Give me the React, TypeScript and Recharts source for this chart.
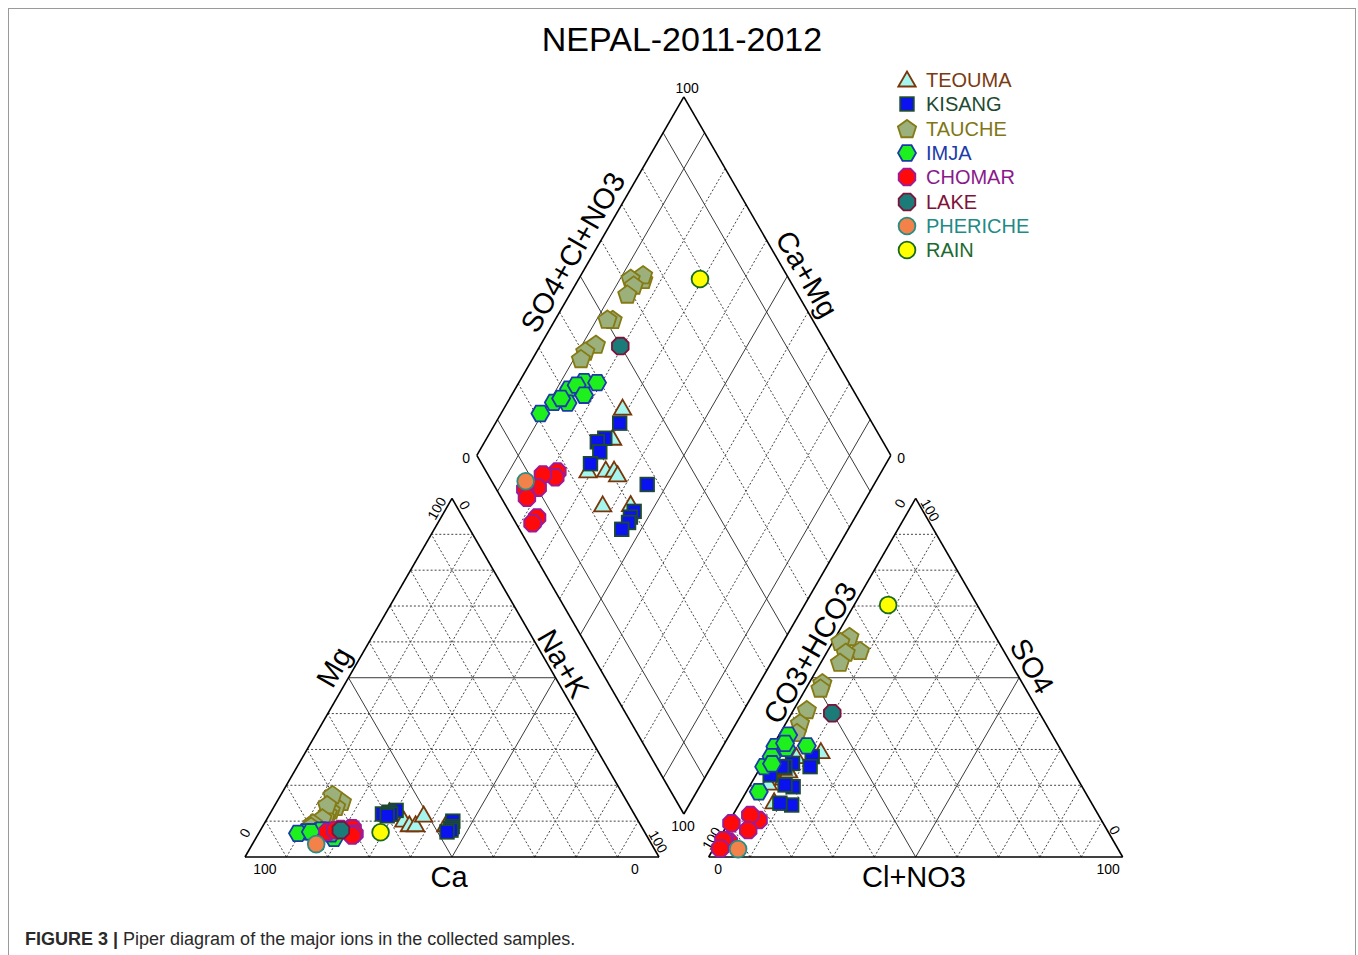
import React from "react";
import { ScatterChart, Scatter, XAxis, YAxis, ReferenceLine, ReferenceDot } from "recharts";

// Sample compositions in meq %: na = Na+K, mg = Mg, so4 = SO4, cl = Cl+NO3
// (Ca = 100 - na - mg, CO3+HCO3 = 100 - so4 - cl)
type Sample = { na: number; mg: number; so4: number; cl: number };

const TEOUMA: Sample[] = [
  { na: 28.6, mg: 12.6, so4: 29.4, cl: 12.4 },
  { na: 30.4, mg: 12.0, so4: 28.0, cl: 7.2 },
  { na: 29.0, mg: 12.0, so4: 20.6, cl: 4.1 },
  { na: 33.2, mg: 10.3, so4: 22.0, cl: 7.1 },
  { na: 35.2, mg: 9.0, so4: 24.3, cl: 6.8 },
  { na: 36.7, mg: 9.0, so4: 24.0, cl: 7.3 },
  { na: 37.3, mg: 11.7, so4: 15.4, cl: 8.1 },
  { na: 44.0, mg: 9.0, so4: 24.7, cl: 5.6 },
];

const KISANG: Sample[] = [
  { na: 30.0, mg: 13.0, so4: 28.0, cl: 11.0 },
  { na: 28.5, mg: 12.5, so4: 26.1, cl: 7.2 },
  { na: 27.2, mg: 12.0, so4: 25.2, cl: 5.8 },
  { na: 29.2, mg: 12.0, so4: 25.2, cl: 5.0 },
  { na: 28.6, mg: 11.5, so4: 22.9, cl: 3.4 },
  { na: 45.2, mg: 10.0, so4: 25.2, cl: 11.9 },
  { na: 45.8, mg: 8.5, so4: 19.6, cl: 10.6 },
  { na: 45.7, mg: 8.0, so4: 20.1, cl: 8.4 },
  { na: 46.0, mg: 7.5, so4: 14.5, cl: 12.8 },
  { na: 45.3, mg: 7.0, so4: 15.0, cl: 9.7 },
];

const TAUCHE: Sample[] = [
  { na: 15.7, mg: 15.4, so4: 61.4, cl: 3.3 },
  { na: 15.0, mg: 14.0, so4: 57.5, cl: 7.8 },
  { na: 12.5, mg: 17.3, so4: 60.0, cl: 1.8 },
  { na: 14.2, mg: 13.0, so4: 57.0, cl: 4.6 },
  { na: 13.9, mg: 12.2, so4: 54.2, cl: 4.6 },
  { na: 13.9, mg: 11.0, so4: 48.5, cl: 3.2 },
  { na: 12.6, mg: 14.5, so4: 47.0, cl: 3.5 },
  { na: 13.3, mg: 10.8, so4: 41.0, cl: 3.2 },
  { na: 11.7, mg: 9.4, so4: 37.3, cl: 3.4 },
  { na: 11.7, mg: 8.5, so4: 34.6, cl: 4.0 },
];

const IMJA: Sample[] = [
  { na: 15.6, mg: 7.5, so4: 34.0, cl: 2.2 },
  { na: 18.9, mg: 5.2, so4: 31.0, cl: 8.2 },
  { na: 13.0, mg: 7.0, so4: 30.8, cl: 0.7 },
  { na: 14.3, mg: 7.3, so4: 30.3, cl: 3.6 },
  { na: 17.5, mg: 6.5, so4: 31.7, cl: 2.6 },
  { na: 11.2, mg: 7.0, so4: 25.2, cl: 0.8 },
  { na: 14.6, mg: 7.5, so4: 28.0, cl: 1.2 },
  { na: 9.5, mg: 6.6, so4: 18.2, cl: 3.0 },
  { na: 12.4, mg: 7.0, so4: 26.0, cl: 2.3 },
];

const CHOMAR: Sample[] = [
  { na: 21.7, mg: 8.0, so4: 10.3, cl: 6.9 },
  { na: 22.0, mg: 8.0, so4: 11.7, cl: 4.2 },
  { na: 18.6, mg: 7.5, so4: 7.5, cl: 5.8 },
  { na: 19.2, mg: 7.8, so4: 9.4, cl: 0.8 },
  { na: 16.4, mg: 7.0, so4: 4.3, cl: 2.7 },
  { na: 18.0, mg: 7.5, so4: 4.7, cl: 1.5 },
  { na: 23.2, mg: 6.5, so4: 4.7, cl: 1.2 },
  { na: 22.9, mg: 6.0, so4: 2.4, cl: 1.6 },
];

const LAKE: Sample[] = [{ na: 19.4, mg: 7.5, so4: 40.1, cl: 9.8 }];
const PHERICHE: Sample[] = [{ na: 15.4, mg: 3.6, so4: 2.2, cl: 6.0 }];
const RAIN: Sample[] = [{ na: 29.3, mg: 6.9, so4: 70.3, cl: 8.2 }];

const SERIES_NAMES = ["TEOUMA", "KISANG", "TAUCHE", "IMJA", "CHOMAR", "LAKE", "PHERICHE", "RAIN"];
const SERIES_DATA = [TEOUMA, KISANG, TAUCHE, IMJA, CHOMAR, LAKE, PHERICHE, RAIN];
const SERIES_STYLE = [
  { kind: "triangle", fill: "#a6f6f0", stroke: "#7a3608", text: "#7a3a12" },
  { kind: "square", fill: "#0a12f0", stroke: "#1d4a30", text: "#1d4a30" },
  { kind: "pentagon", fill: "#9cb07c", stroke: "#857a14", text: "#7f7614" },
  { kind: "hexagon", fill: "#1ef01e", stroke: "#1c3aa8", text: "#1c3aa8" },
  { kind: "octagon", fill: "#ff0a0a", stroke: "#9a1c9a", text: "#8a1a8a" },
  { kind: "octagon", fill: "#1a7b78", stroke: "#7e1238", text: "#7e1238" },
  { kind: "circle", fill: "#f2824a", stroke: "#2a8c84", text: "#1f8a86" },
  { kind: "circle", fill: "#ffff00", stroke: "#1b6a22", text: "#1b6a2e" },
];

// Geometry of the Piper plot (data units)
const H = Math.sqrt(3) / 2;
const GAP = 12;
const AX = 100 + GAP;
const cat = (na: number, mg: number) => ({ x: na + mg / 2, y: mg * H });
const ani = (cl: number, so4: number) => ({ x: AX + cl + so4 / 2, y: so4 * H });
const dia = (a: number, c: number) => ({ x: 100 + GAP / 2 + (a - c) / 2, y: GAP * H + (a + c) * H });

// Layout: pixels per unit and where the origin sits in the chart
const K = 4.14;
const OX = 236;
const OY = 848;
const CW = 1346;
const CH = 950;
const X_DOMAIN = [-OX / K, (CW - OX) / K];
const Y_DOMAIN = [(OY - CH) / K, OY / K];

const TICKS = [10, 20, 30, 40, 50, 60, 70, 80, 90];
const FONT = "'Liberation Sans', Arial, Helvetica, sans-serif";

type Seg = { p: { x: number; y: number }[]; kind: "edge" | "solid" | "dash" };

function triangleSegs(f: (u: number, v: number) => { x: number; y: number }): Seg[] {
  const s: Seg[] = [];
  TICKS.forEach((t) => {
    const k = t === 50 ? "solid" : "dash";
    s.push({ p: [f(0, t), f(100 - t, t)], kind: k });
    s.push({ p: [f(t, 0), f(t, 100 - t)], kind: k });
    s.push({ p: [f(100 - t, 0), f(0, 100 - t)], kind: k });
  });
  s.push({ p: [f(0, 0), f(100, 0)], kind: "edge" });
  s.push({ p: [f(100, 0), f(0, 100)], kind: "edge" });
  s.push({ p: [f(0, 100), f(0, 0)], kind: "edge" });
  return s;
}

function diamondSegs(): Seg[] {
  const s: Seg[] = [];
  TICKS.forEach((t) => {
    const k = t === 10 || t === 50 || t === 90 ? "solid" : "dash";
    s.push({ p: [dia(t, 0), dia(t, 100)], kind: k });
    s.push({ p: [dia(0, t), dia(100, t)], kind: k });
  });
  s.push({ p: [dia(0, 0), dia(100, 0)], kind: "edge" });
  s.push({ p: [dia(100, 0), dia(100, 100)], kind: "edge" });
  s.push({ p: [dia(100, 100), dia(0, 100)], kind: "edge" });
  s.push({ p: [dia(0, 100), dia(0, 0)], kind: "edge" });
  return s;
}

const SEGS: Seg[] = [...triangleSegs(cat), ...triangleSegs(ani), ...diamondSegs()];

// Axis titles and end-value labels (positioned relative to the geometry)
const AXIS_LABELS = [
  { text: "Mg", at: cat(0, 50), dx: -3.5, dy: 2.6, rot: -60, size: 29 },
  { text: "Na+K", at: cat(50, 50), dx: 1.9, dy: 3.4, rot: 60, size: 29 },
  { text: "Ca", at: cat(50, 0), dx: -0.7, dy: -4.8, rot: 0, size: 29 },
  { text: "CO3+HCO3", at: ani(0, 50), dx: -0.5, dy: 6.0, rot: -60, size: 29 },
  { text: "SO4", at: ani(50, 50), dx: 3.1, dy: 2.8, rot: 60, size: 29 },
  { text: "Cl+NO3", at: ani(50, 0), dx: -0.4, dy: -4.8, rot: 0, size: 29 },
  { text: "SO4+Cl+NO3", at: dia(50, 100), dx: -1.8, dy: 5.8, rot: -60, size: 29 },
  { text: "Ca+Mg", at: dia(100, 50), dx: 4.7, dy: 0.5, rot: 60, size: 29 },
  { text: "100", at: cat(0, 0), dx: 4.8, dy: -2.9, rot: 0, size: 14 },
  { text: "0", at: cat(100, 0), dx: -5.8, dy: -2.9, rot: 0, size: 14 },
  { text: "0", at: cat(0, 0), dx: 0, dy: 5.8, rot: -60, size: 14 },
  { text: "100", at: cat(0, 100), dx: -3.7, dy: -2.4, rot: -60, size: 14 },
  { text: "0", at: cat(0, 100), dx: 3.1, dy: -1.6, rot: 60, size: 14 },
  { text: "100", at: cat(100, 0), dx: -0.2, dy: 3.7, rot: 60, size: 14 },
  { text: "0", at: ani(0, 0), dx: 2.3, dy: -2.9, rot: 0, size: 14 },
  { text: "100", at: ani(100, 0), dx: -3.5, dy: -2.9, rot: 0, size: 14 },
  { text: "100", at: ani(0, 0), dx: 0.7, dy: 4.5, rot: -60, size: 14 },
  { text: "0", at: ani(0, 100), dx: -3.8, dy: -1.2, rot: -60, size: 14 },
  { text: "100", at: ani(0, 100), dx: 3.5, dy: -2.8, rot: 60, size: 14 },
  { text: "0", at: ani(100, 0), dx: -1.9, dy: 6.5, rot: 60, size: 14 },
  { text: "100", at: dia(100, 100), dx: 0.8, dy: 2.1, rot: 0, size: 14 },
  { text: "0", at: dia(0, 100), dx: -2.6, dy: -0.6, rot: 0, size: 14 },
  { text: "0", at: dia(100, 0), dx: 2.5, dy: -0.6, rot: 0, size: 14 },
  { text: "100", at: dia(0, 0), dx: -0.2, dy: -2.9, rot: 0, size: 14 },
];

function regular(cx: number, cy: number, r: number, n: number, startDeg: number) {
  const pts: string[] = [];
  for (let i = 0; i < n; i++) {
    const a = ((startDeg + (360 / n) * i) * Math.PI) / 180;
    pts.push(`${cx + r * Math.cos(a)},${cy + r * Math.sin(a)}`);
  }
  return pts.join(" ");
}

function Marker({ cx, cy, kind, fill, stroke }: any) {
  const sw = 1.8;
  if (cx == null || cy == null) return null;
  switch (kind) {
    case "triangle":
      return <polygon points={regular(cx, cy + 1.5, 10, 3, -90)} fill={fill} stroke={stroke} strokeWidth={sw} strokeLinejoin="miter" />;
    case "square":
      return <rect x={cx - 6.8} y={cy - 6.8} width={13.6} height={13.6} fill={fill} stroke={stroke} strokeWidth={sw} />;
    case "pentagon":
      return <polygon points={regular(cx, cy + 0.5, 9.6, 5, -90)} fill={fill} stroke={stroke} strokeWidth={sw} />;
    case "hexagon":
      return <polygon points={regular(cx, cy, 9, 6, 0)} fill={fill} stroke={stroke} strokeWidth={sw} />;
    case "octagon":
      return <polygon points={regular(cx, cy, 9, 8, 22.5)} fill={fill} stroke={stroke} strokeWidth={sw} />;
    default:
      return <circle cx={cx} cy={cy} r={8.4} fill={fill} stroke={stroke} strokeWidth={sw} />;
  }
}

function pointsOf(samples: Sample[]) {
  const out: { x: number; y: number }[] = [];
  samples.forEach((s) => {
    out.push(cat(s.na, s.mg));
    out.push(ani(s.cl, s.so4));
    out.push(dia(s.so4 + s.cl, 100 - s.na));
  });
  return out;
}

const textShape = (t: { text: string; rot: number; size: number }) => (p: any) => (
  <text
    x={p.cx}
    y={p.cy}
    textAnchor="middle"
    dominantBaseline="central"
    fontSize={t.size}
    fontFamily={FONT}
    fill="#000"
    transform={t.rot ? `rotate(${t.rot} ${p.cx} ${p.cy})` : undefined}
  >
    {t.text}
  </text>
);

export default function App() {
  return (
    <div
      style={{
        position: "relative",
        width: CW,
        height: CH,
        margin: "8px 0 0 8px",
        border: "1px solid #9a9a9a",
        fontFamily: FONT,
        background: "#fff",
      }}
    >
      <style>{"body{margin:0;overflow:hidden;background:#fff}"}</style>
      <div
        style={{
          position: "absolute",
          left: 0,
          top: 13,
          width: CW,
          textAlign: "center",
          fontSize: 34,
          lineHeight: "34px",
          color: "#000",
        }}
      >
        NEPAL-2011-2012
      </div>
      <div style={{ position: "absolute", left: 0, top: 0 }}>
        <ScatterChart width={CW} height={CH} margin={{ top: 0, right: 0, bottom: 0, left: 0 }}>
          <XAxis type="number" dataKey="x" domain={X_DOMAIN} allowDataOverflow hide />
          <YAxis type="number" dataKey="y" domain={Y_DOMAIN} allowDataOverflow hide />
          {SEGS.map((s, i) => (
            <ReferenceLine
              key={"l" + i}
              segment={s.p}
              stroke={s.kind === "edge" ? "#000" : s.kind === "solid" ? "#3a3a3a" : "#444"}
              strokeWidth={s.kind === "edge" ? 1.6 : 1}
              strokeDasharray={s.kind === "dash" ? "2 2" : undefined}
              ifOverflow="visible"
            />
          ))}
          {AXIS_LABELS.map((t, i) => (
            <ReferenceDot
              key={"t" + i}
              x={t.at.x + t.dx}
              y={t.at.y + t.dy}
              r={0}
              ifOverflow="visible"
              shape={textShape(t)}
            />
          ))}
          {SERIES_NAMES.map((name, i) => (
            <Scatter
              key={name}
              name={name}
              data={pointsOf(SERIES_DATA[i])}
              isAnimationActive={false}
              shape={(p: any) => <Marker cx={p.cx} cy={p.cy} {...SERIES_STYLE[i]} />}
            />
          ))}
        </ScatterChart>
      </div>
      {SERIES_NAMES.map((name, i) => (
        <div
          key={name}
          style={{
            position: "absolute",
            left: 888,
            top: 59 + i * 24.3,
            height: 24,
            display: "flex",
            alignItems: "center",
          }}
        >
          <svg width={20} height={20} style={{ display: "block" }}>
            <Marker cx={10} cy={10} {...SERIES_STYLE[i]} />
          </svg>
          <span style={{ marginLeft: 9, fontSize: 20, color: SERIES_STYLE[i].text, lineHeight: "24px" }}>{name}</span>
        </div>
      ))}
      <div
        style={{
          position: "absolute",
          left: 16,
          top: 920,
          fontSize: 18,
          lineHeight: "20px",
          color: "#2a2a2a",
        }}
      >
        <b>FIGURE 3 |</b> Piper diagram of the major ions in the collected samples.
      </div>
    </div>
  );
}
